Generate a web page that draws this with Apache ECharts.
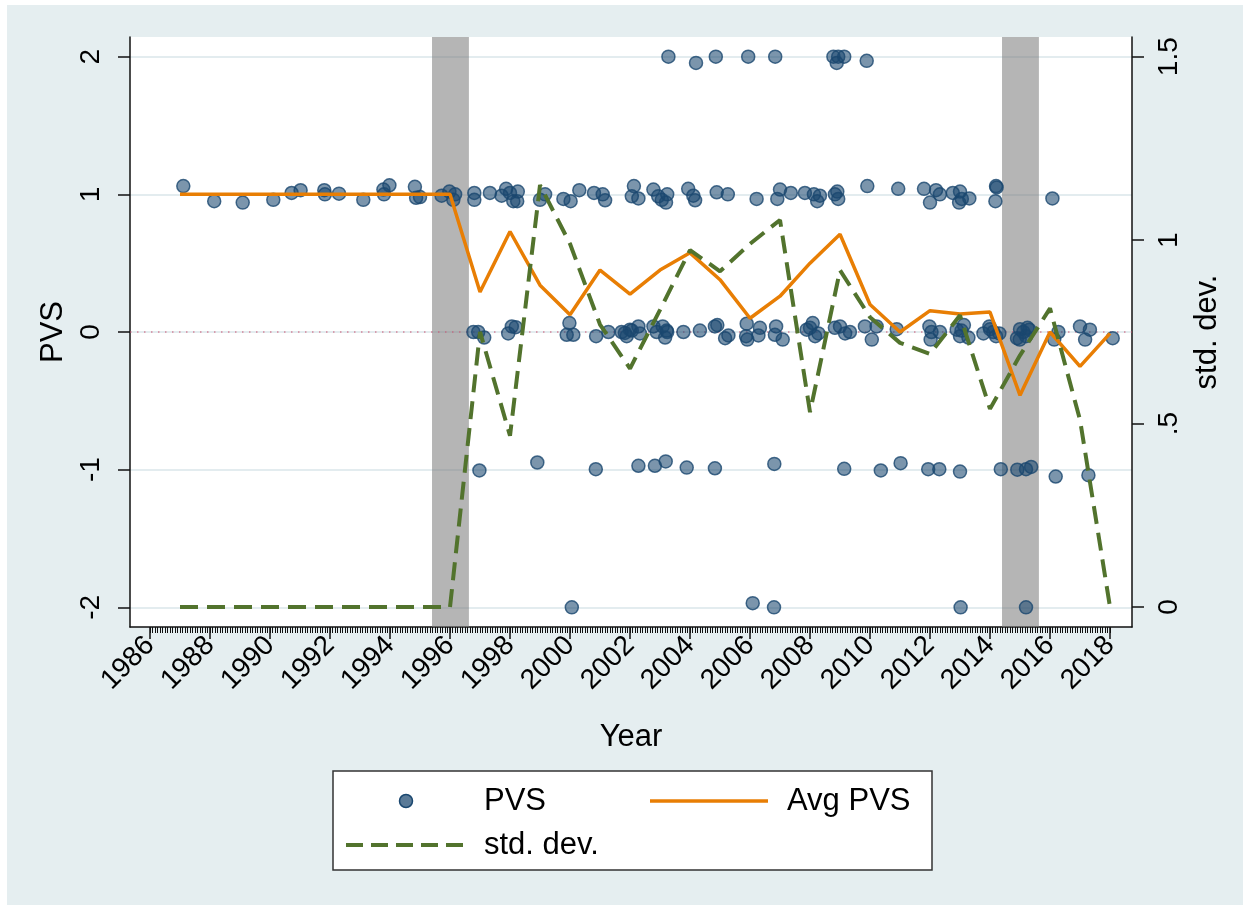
<!DOCTYPE html>
<html>
<head>
<meta charset="utf-8">
<script src="https://cdn.jsdelivr.net/npm/echarts@6/dist/echarts.min.js"></script>
<style>
html,body{margin:0;padding:0;background:#fff;}
#chart{width:1250px;height:911px;}
</style>
</head>
<body>
<div id="chart"></div>
<script>
// ---------- DATA ----------
const years = [1987,1988,1989,1990,1991,1992,1993,1994,1995,1996,1997,1998,1999,2000,2001,2002,2003,2004,2005,2006,2007,2008,2009,2010,2011,2012,2013,2014,2015,2016,2017,2018];
const avgPVS = [1,1,1,1,1,1,1,1,1,1,0.29,0.73,0.34,0.125,0.45,0.275,0.45,0.575,0.38,0.10,0.26,0.50,0.71,0.20,0.0,0.155,0.13,0.145,-0.46,0.0,-0.25,-0.01];
const stdDev = [0,0,0,0,0,0,0,0,0,0,0.75,0.467,1.15,0.99,0.77,0.65,0.81,0.973,0.915,0.99,1.055,0.531,0.918,0.79,0.72,0.69,0.795,0.54,0.686,0.814,0.51,0.0];
const pvsX = [
 2003.28,2004.2,2004.86,2005.94,2006.84,2008.78,2008.94,2009.14,2008.89,2009.89,
 1987.11,1988.14,1989.09,1990.11,1990.72,1991.02,1991.81,1991.83,1992.3,1993.11,1993.78,1993.98,1993.8,1994.83,1994.87,1995.0,1995.72,1995.98,1996.11,1996.17,
 1996.81,1996.81,1997.33,1997.72,1997.87,1998.0,1998.11,1998.24,1998.26,1999.0,1999.17,1999.78,2000.02,2000.31,2000.8,2001.09,2001.17,2002.13,2002.06,2002.28,2002.78,2002.94,2003.06,2003.24,2003.2,2003.94,2004.11,2004.17,2004.89,2005.26,2006.22,
 2007.0,2006.91,2007.36,2007.83,2008.13,2008.24,2008.33,2008.83,2008.91,2008.94,2009.91,2010.94,2011.8,2012.0,2012.2,2012.33,2012.76,2013.0,2012.97,2013.06,2013.31,2014.2,2014.22,2014.18,2016.08,
 1996.78,1996.94,1997.14,1997.94,1998.06,1998.19,1999.98,1999.89,2000.11,2000.87,2001.28,2001.72,2001.89,2002.06,2002.28,2002.33,2002.78,2002.89,2003.09,2003.17,2003.24,2003.78,2004.33,2004.83,2004.91,2005.17,2005.28,2005.89,2005.87,2005.91,2006.33,2006.28,
 2006.87,2006.83,2007.09,2007.89,2008.09,2008.28,2008.17,2008.83,2009.0,2009.17,2009.33,2009.83,2010.06,2010.22,2010.89,2011.98,2012.02,2012.33,2012.89,2013.0,2013.13,2013.28,2013.78,2013.98,2014.11,2014.31,2014.99,2015.11,2015.31,2016.28,2016.14,2017.0,2017.33,2017.17,2018.09,
 2003.22,2001.83,2002.0,2008.0,2014.0,2014.2,2015.0,2015.2,2012.05,2013.05,2014.9,2015.25,
 1996.98,1998.91,2000.86,2002.28,2002.83,2003.19,2003.89,2004.83,2006.81,2009.14,2010.36,2011.02,2011.94,2012.31,2013.0,2014.36,2014.91,2015.2,2015.37,2016.19,2017.28,
 2000.06,2006.09,2006.8,2013.02,2015.2
];
const pvsY = [
 2.0,1.955,2.0,2.0,2.0,2.0,2.0,2.0,1.955,1.97,
 1.06,0.95,0.94,0.96,1.01,1.03,1.03,1.0,1.005,0.96,1.035,1.066,1.0,1.055,0.975,0.98,0.99,1.02,0.96,1.0,
 1.01,0.96,1.01,0.99,1.04,1.01,0.95,0.95,1.02,0.96,1.0,0.967,0.95,1.03,1.01,1.0,0.957,1.06,0.986,0.97,1.035,0.986,0.96,1.0,0.94,1.04,0.99,0.957,1.015,1.0,0.967,
 1.035,0.967,1.01,1.01,1.0,0.95,0.99,1.0,1.02,0.967,1.06,1.04,1.04,0.94,1.03,1.0,1.01,1.02,0.94,0.967,0.97,1.06,1.05,0.95,0.97,
 0.0,0.0,-0.04,-0.01,0.04,0.035,0.065,-0.02,-0.02,-0.03,0.0,0.0,-0.03,0.01,0.04,-0.01,0.04,0.0,0.04,-0.04,0.0,0.0,0.01,0.04,0.05,-0.045,-0.025,0.06,-0.03,-0.055,0.03,-0.025,
 0.04,-0.02,-0.055,0.017,0.065,-0.01,-0.03,0.03,0.04,-0.01,0.0,0.04,-0.055,0.04,0.02,0.04,-0.055,0.0,0.017,-0.03,0.05,-0.04,-0.01,0.04,0.0,-0.01,-0.055,0.0,0.017,0.0,-0.055,0.04,0.017,-0.055,-0.045,
 0.01,-0.007,0.017,0.03,0.02,-0.03,0.02,-0.03,0.0,0.01,-0.045,0.03,
 -1.006,-0.948,-0.997,-0.972,-0.972,-0.94,-0.985,-0.99,-0.958,-0.994,-1.006,-0.953,-0.997,-0.997,-1.014,-0.997,-1.0,-0.997,-0.98,-1.05,-1.04,
 -2.0,-1.97,-2.0,-2.0,-2.0
];
const recessionBands = [[1995.4,1996.63],[2014.4,2015.63]];
const xTickLabels = [1986,1988,1990,1992,1994,1996,1998,2000,2002,2004,2006,2008,2010,2012,2014,2016,2018];
const yLeftTicks = [-2,-1,0,1,2];
const yRightTicks = [0,0.5,1,1.5];
const refLineY = [0];

// ---------- BUILD ----------
const FONT = 'Liberation Sans';
const navyFill = 'rgba(26,71,111,0.72)';
const navy = '#1a476f';
const orange = '#e87e04';
const green = '#52732d';

const minorTicks = [];
for (let m = 0; m <= 32 * 12; m++) minorTicks.push(1986 + m / 12);

const scatterData = pvsX.map((x, i) => [x, pvsY[i]]);
const avgData = years.map((y, i) => [y, avgPVS[i]]);
const stdData = years.map((y, i) => [y, stdDev[i]]);

const chart = echarts.init(document.getElementById('chart'), null, {renderer: 'canvas'});

const option = {
  backgroundColor: '#ffffff',
  animation: false,
  textStyle: {fontFamily: FONT, color: '#000'},
  grid: {left: 130, right: 118, top: 37, bottom: 284, show: true, backgroundColor: '#ffffff', borderWidth: 0, containLabel: false},
  graphic: [
    {type: 'rect', z: -100, shape: {x: 7, y: 5, width: 1236, height: 900}, style: {fill: '#e5eef0'}},
    {type: 'rect', z: 10, shape: {x: 333, y: 771, width: 599, height: 99}, style: {fill: '#fff', stroke: '#333', lineWidth: 1.5}},
    {type: 'circle', z: 11, shape: {cx: 406, cy: 801, r: 6.5}, style: {fill: navyFill, stroke: navy, lineWidth: 1.5}},
    {type: 'text', z: 11, x: 484, y: 801, style: {text: 'PVS', font: '31px ' + FONT, fill: '#000', verticalAlign: 'middle'}},
    {type: 'line', z: 11, shape: {x1: 650, y1: 801, x2: 768, y2: 801}, style: {stroke: orange, lineWidth: 3.5}},
    {type: 'text', z: 11, x: 787, y: 801, style: {text: 'Avg PVS', font: '31px ' + FONT, fill: '#000', verticalAlign: 'middle'}},
    {type: 'line', z: 11, shape: {x1: 346, y1: 845, x2: 464, y2: 845}, style: {stroke: green, lineWidth: 4, lineDash: [17, 8]}},
    {type: 'text', z: 11, x: 484, y: 845, style: {text: 'std. dev.', font: '31px ' + FONT, fill: '#000', verticalAlign: 'middle'}}
  ],
  xAxis: [
    {
      type: 'value', min: 1985.333, max: 2018.733, position: 'bottom',
      name: 'Year', nameLocation: 'middle', nameGap: 95,
      nameTextStyle: {fontSize: 31, fontFamily: FONT, color: '#000'},
      axisLine: {show: true, onZero: false, lineStyle: {color: '#111', width: 1.5}},
      axisTick: {show: true, customValues: xTickLabels, length: 12, lineStyle: {color: '#111', width: 1.5}},
      axisLabel: {show: true, customValues: xTickLabels, rotate: 45, fontSize: 28, margin: 14, color: '#000', fontFamily: FONT,
        formatter: v => String(Math.round(v))},
      splitLine: {show: false}
    },
    {
      type: 'value', min: 1985.333, max: 2018.733, position: 'bottom',
      axisLine: {show: false, onZero: false},
      axisTick: {show: true, customValues: minorTicks, length: 6, lineStyle: {color: '#111', width: 1}},
      axisLabel: {show: false},
      splitLine: {show: false}
    }
  ],
  yAxis: [
    {
      type: 'value', min: -2.143, max: 2.143, position: 'left',
      name: 'PVS', nameLocation: 'middle', nameGap: 56, nameRotate: 90,
      nameTextStyle: {fontSize: 31, fontFamily: FONT, color: '#000'},
      axisLine: {show: true, onZero: false, lineStyle: {color: '#111', width: 1.5}},
      axisTick: {show: true, customValues: yLeftTicks, length: 12, lineStyle: {color: '#111', width: 1.5}},
      axisLabel: {show: true, customValues: yLeftTicks, rotate: 90, fontSize: 28, margin: 25, color: '#000', fontFamily: FONT},
      splitLine: {show: true, lineStyle: {color: '#e3ecef', width: 2}}
    },
    {
      type: 'value', min: -0.0545, max: 1.5537, position: 'right',
      name: 'std. dev.', nameLocation: 'middle', nameGap: 60, nameRotate: 90,
      nameTextStyle: {fontSize: 31, fontFamily: FONT, color: '#000'},
      axisLine: {show: true, onZero: false, lineStyle: {color: '#111', width: 1.5}},
      axisTick: {show: true, customValues: yRightTicks, length: 12, lineStyle: {color: '#111', width: 1.5}},
      axisLabel: {show: true, customValues: yRightTicks, rotate: 90, fontSize: 28, margin: 23, color: '#000', fontFamily: FONT,
        formatter: v => (v > 0 && v < 1) ? String(v).replace(/^0/, '') : String(v)},
      splitLine: {show: false}
    }
  ],
  series: [
    {
      type: 'custom', name: 'bands', z: 1, silent: true,
      xAxisIndex: 0, yAxisIndex: 0,
      data: recessionBands,
      encode: {x: [0, 1]},
      renderItem: function (params, api) {
        const cs = params.coordSys;
        const x0 = api.coord([api.value(0), 0])[0];
        const x1 = api.coord([api.value(1), 0])[0];
        return {type: 'rect', shape: {x: x0, y: cs.y, width: x1 - x0, height: cs.height}, style: {fill: 'rgba(120,120,120,0.55)'}};
      }
    },
    {
      type: 'custom', name: 'ref', z: 2, silent: true,
      xAxisIndex: 0, yAxisIndex: 0,
      data: refLineY.map(v => [v]),
      encode: {y: 0},
      renderItem: function (params, api) {
        const cs = params.coordSys;
        const y = api.coord([1990, api.value(0)])[1];
        return {type: 'line', shape: {x1: cs.x, y1: y, x2: cs.x + cs.width, y2: y}, style: {stroke: '#cc4f6f', lineWidth: 1.2, lineDash: [1.5, 5.5]}};
      }
    },
    {
      type: 'scatter', name: 'PVS', z: 3,
      xAxisIndex: 0, yAxisIndex: 0,
      data: scatterData,
      symbol: 'circle', symbolSize: 13,
      itemStyle: {color: navyFill, borderColor: navy, borderWidth: 1.5}
    },
    {
      type: 'line', name: 'Avg PVS', z: 4,
      xAxisIndex: 0, yAxisIndex: 0,
      data: avgData, showSymbol: false, symbol: 'none',
      lineStyle: {color: orange, width: 3.5}
    },
    {
      type: 'line', name: 'std. dev.', z: 5,
      xAxisIndex: 0, yAxisIndex: 1,
      data: stdData, showSymbol: false, symbol: 'none',
      lineStyle: {color: green, width: 4, type: [18, 9]}
    }
  ]
};
chart.setOption(option);
</script>
</body>
</html>
